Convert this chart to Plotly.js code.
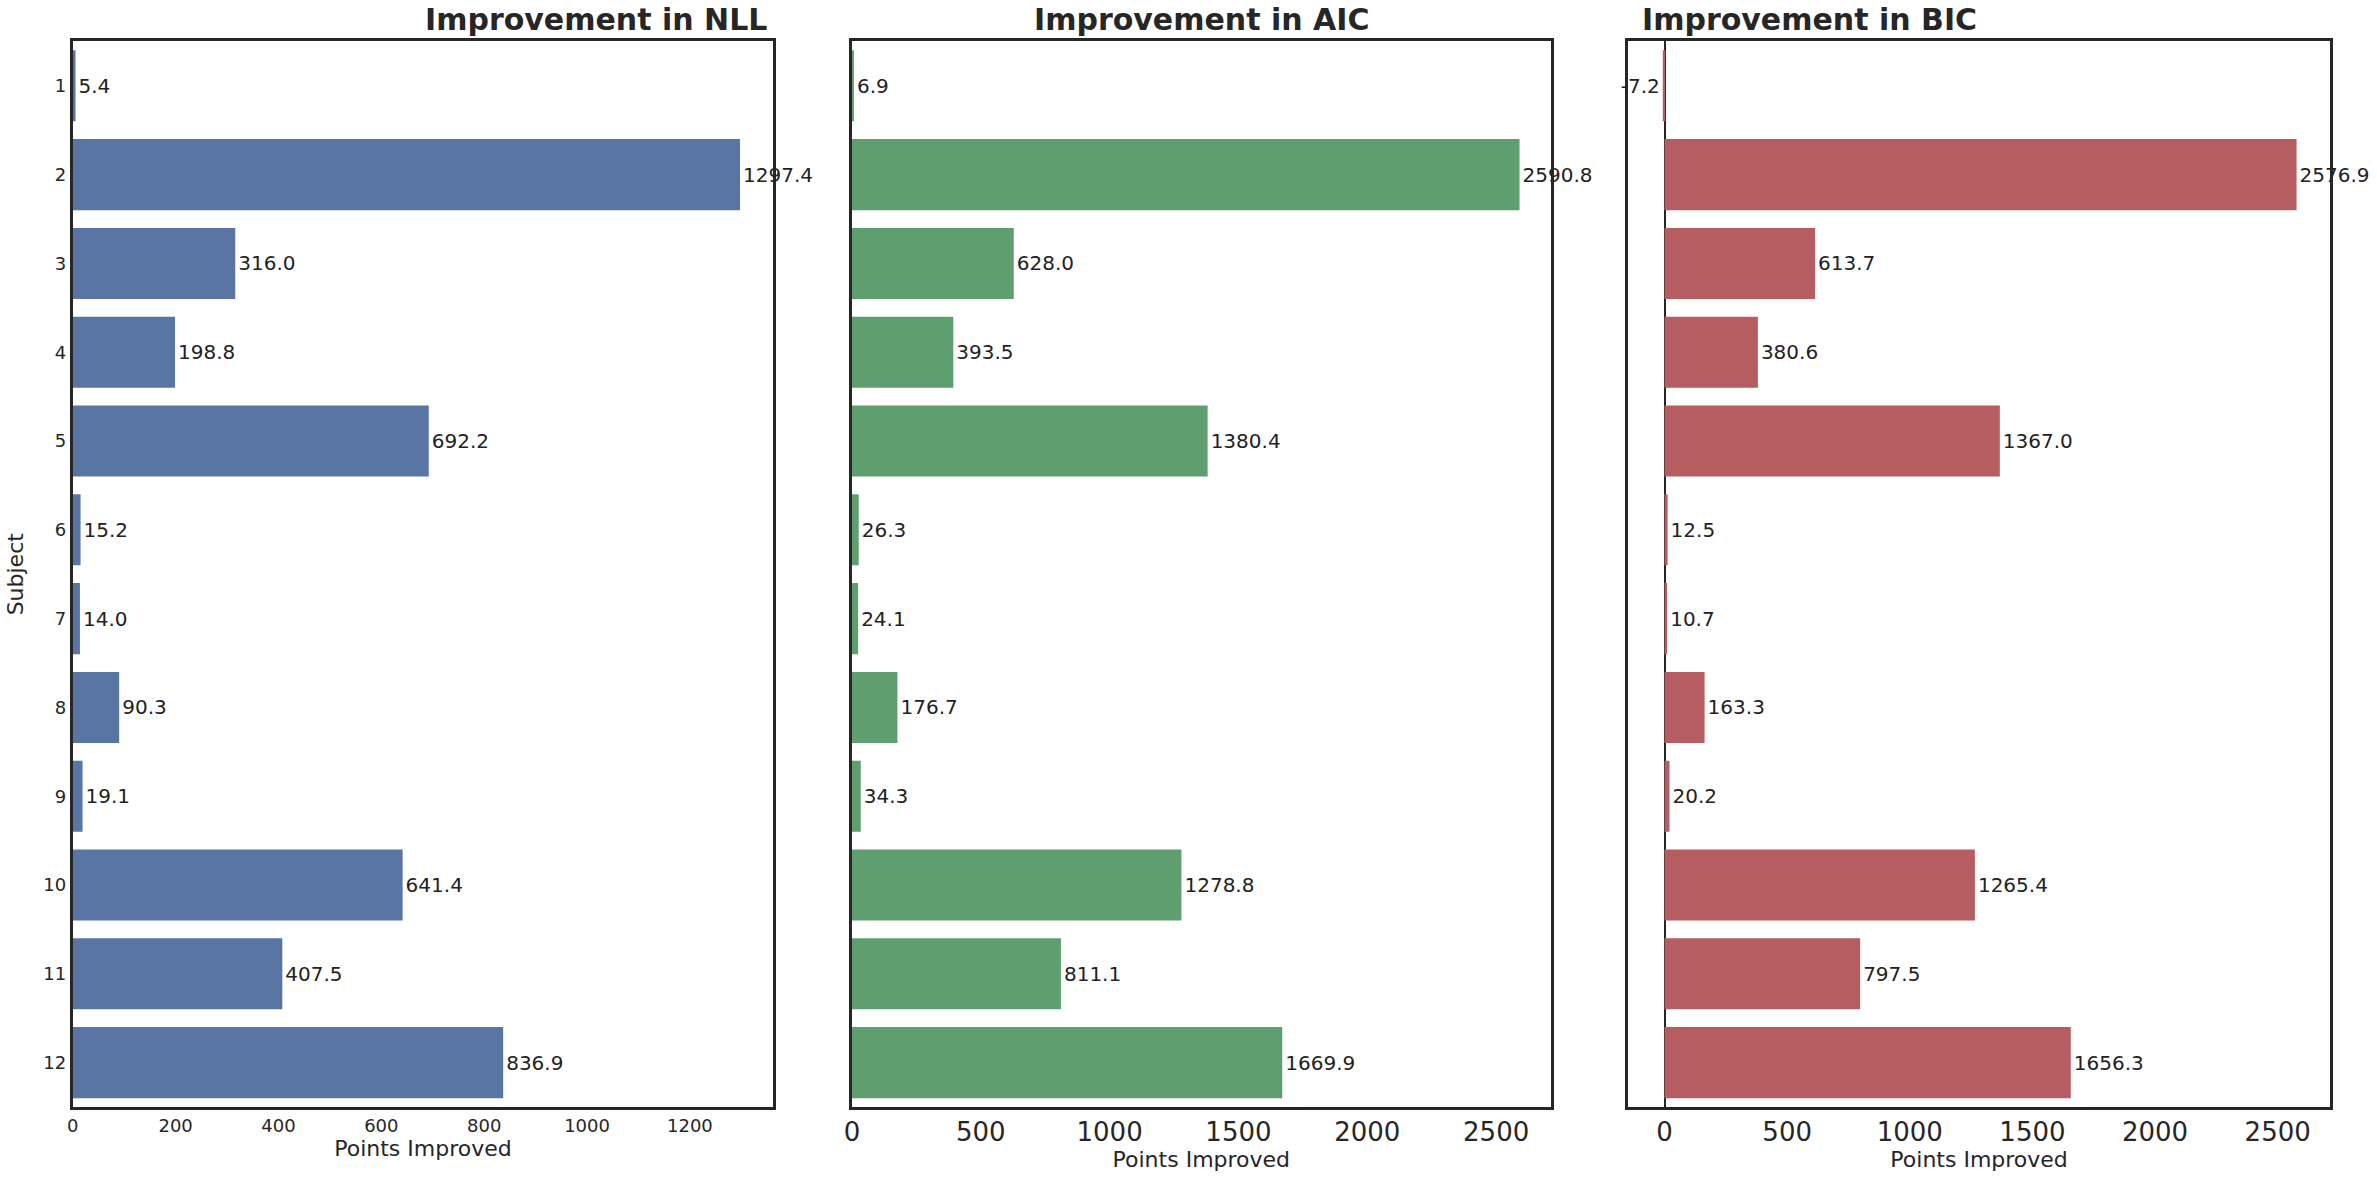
<!DOCTYPE html><html><head><script src="https://cdn.plot.ly/plotly-3.0.1.min.js"></script></head><body style="margin:0"><div id="c" style="width:2377px;height:1184px"></div><script>
const subjects=['1','2','3','4','5','6','7','8','9','10','11','12'];
const nll=[5.4,1297.4,316.0,198.8,692.2,15.2,14.0,90.3,19.1,641.4,407.5,836.9];
const aic=[6.9,2590.8,628.0,393.5,1380.4,26.3,24.1,176.7,34.3,1278.8,811.1,1669.9];
const bic=[-7.2,2576.9,613.7,380.6,1367.0,12.5,10.7,163.3,20.2,1265.4,797.5,1656.3];
const cols=['#5875a4','#5f9e6e','#b55d60'];
function tr(v,i){return {type:'bar',orientation:'h',y:subjects,x:v,width:0.8,marker:{color:cols[i]},
 text:v.map(a=>a.toFixed(1)),textposition:'outside',cliponaxis:false,textfont:{size:20,color:'#222',family:'DejaVu Sans'},
 xaxis:'x'+(i?i+1:''),yaxis:'y'+(i?i+1:''),showlegend:false};}
const ax={showline:true,mirror:true,linecolor:'#262626',linewidth:3,zeroline:false,showgrid:false,ticks:'',color:'#262626'};
const ya=Object.assign({},ax,{type:'category',autorange:'reversed',domain:[0.065,0.965]});
const ttl=t=>({text:'<b>'+t+'</b>',font:{size:30,color:'#262626'}});
Plotly.newPlot('c',[tr(nll,0),tr(aic,1),tr(bic,2)],{
 font:{family:'DejaVu Sans',color:'#262626'},margin:{l:0,r:0,t:0,b:0},paper_bgcolor:'white',plot_bgcolor:'white',bargap:0.2,
 xaxis:Object.assign({},ax,{domain:[0.0306,0.3253],range:[0,1362],dtick:200,tickfont:{size:18},title:{text:'Points Improved',font:{size:22},standoff:6}}),
 xaxis2:Object.assign({},ax,{domain:[0.3584,0.6524],range:[0,2712],dtick:500,tickfont:{size:26},title:{text:'Points Improved',font:{size:22},standoff:4}}),
 xaxis3:Object.assign({},ax,{domain:[0.6850,0.9802],range:[-148,2713],tickvals:[0,500,1000,1500,2000,2500],zeroline:true,zerolinecolor:'#262626',zerolinewidth:2,tickfont:{size:26},title:{text:'Points Improved',font:{size:22},standoff:4}}),
 yaxis:Object.assign({},ya,{anchor:'x',tickfont:{size:18},title:{text:'Subject',font:{size:22},standoff:14}}),
 yaxis2:Object.assign({},ya,{anchor:'x2',showticklabels:false}),
 yaxis3:Object.assign({},ya,{anchor:'x3',showticklabels:false}),
 annotations:[[0.1780,'Improvement in NLL'],[0.5054,'Improvement in AIC'],[0.8326,'Improvement in BIC']].map(a=>({xref:'paper',yref:'paper',x:a[0],y:0.967,yanchor:'bottom',showarrow:false,text:'<b>'+a[1]+'</b>',font:{size:30,color:'#262626'}}))
},{displayModeBar:false});
</script></body></html>
